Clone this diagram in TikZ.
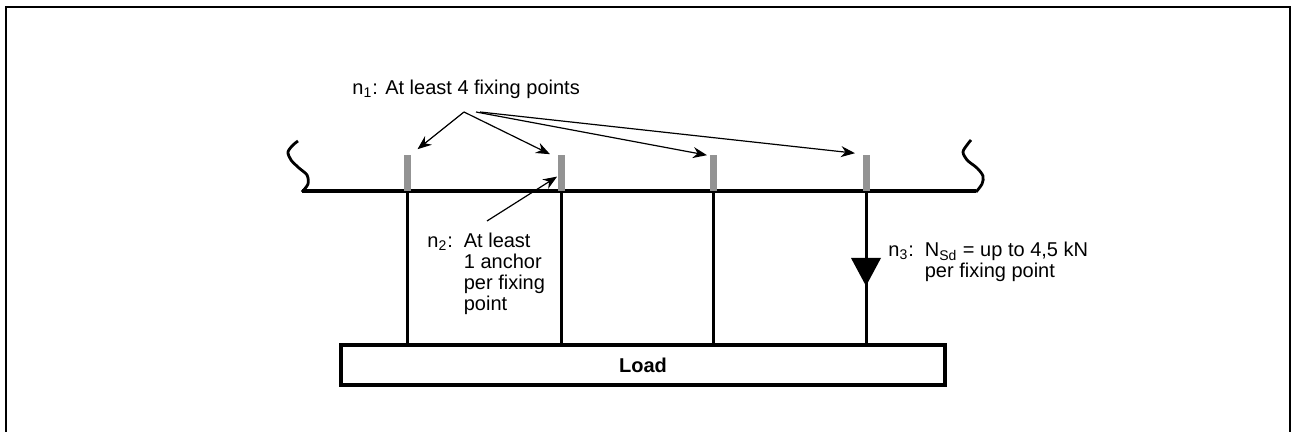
\documentclass[tikz,border=0pt]{standalone}
\usepackage{fontspec}
\setmainfont{Liberation Sans}
\usetikzlibrary{arrows.meta}
\begin{document}
\begin{tikzpicture}[x=0.5pt,y=-0.5pt,
  bar/.style={fill=gray!85,draw=none,minimum width=3.5pt,minimum height=18pt,inner sep=0pt,anchor=south},
  lbl/.style={font=\fontsize{10}{10.5}\selectfont,inner sep=0pt,anchor=base west},
  pointer/.style={line width=0.6pt,-{Stealth[length=7pt,width=5.5pt]}}]
                \useasboundingbox (0,0) rectangle (1292,432);
                \draw[line width=1.2pt] (6,440) -- (6,7) -- (1290,7) -- (1290,440);
                % beam with broken ends
                \draw[line width=2pt] (302,191) -- (976,191);
                \draw[line width=1.4pt] plot[smooth] coordinates {(302,192) (308,184) (307,175) (299,168) (291,160) (288,152) (293,145) (298,141)};
                \draw[line width=1.4pt] plot[smooth] coordinates {(976,192) (982,184) (983,176) (977,168) (967,160) (963,152) (967,145) (971,140)};
                \node[draw,line width=2pt,minimum width=302pt,minimum height=20pt,inner sep=0pt,font=\fontsize{10}{10.5}\selectfont\bfseries] (load) at (643,365) {Load};
                \foreach \i/\x in {1/407.5,2/561,3/713,4/866} {
                    \node[bar] (f\i) at (\x,191) {};
                    \draw[line width=1.5pt] (f\i.south) -- (f\i.south |- load.north);
                }
                \fill (851,258) -- (881,258) -- (866,286) -- cycle;
                \node[lbl] (n1lab) at (352,95) {n\textsubscript{1}: At least 4 fixing points};
                \node[lbl] (n2lab) at (427,248) {n\textsubscript{2}:\hspace{5.5pt}\begin{tabular}[t]{@{}l@{}}At least\\1 anchor\\per fixing\\point\end{tabular}};
                \node[lbl] (n3lab) at (888,257) {n\textsubscript{3}:\hspace{5.5pt}\begin{tabular}[t]{@{}l@{}}N\textsubscript{Sd} = up to 4,5 kN\\per fixing point\end{tabular}};
                \coordinate (src1) at (464,112);
                \coordinate (src2) at (487,221);
                \draw[pointer] (src1) -- ([xshift=5pt,yshift=2.5pt]f1.north);
                \draw[pointer] (src1) -- ([xshift=-5.5pt]f2.north);
                \draw[pointer] ([xshift=6pt]src1) -- ([xshift=-3pt,yshift=-0.5pt]f3.north);
                \draw[pointer] ([xshift=8pt]src1) -- ([xshift=-5.5pt,yshift=0.5pt]f4.north);
                \draw[pointer] (src2) -- ([yshift=-2pt]f2.west);
            \end{tikzpicture}
\end{document}
